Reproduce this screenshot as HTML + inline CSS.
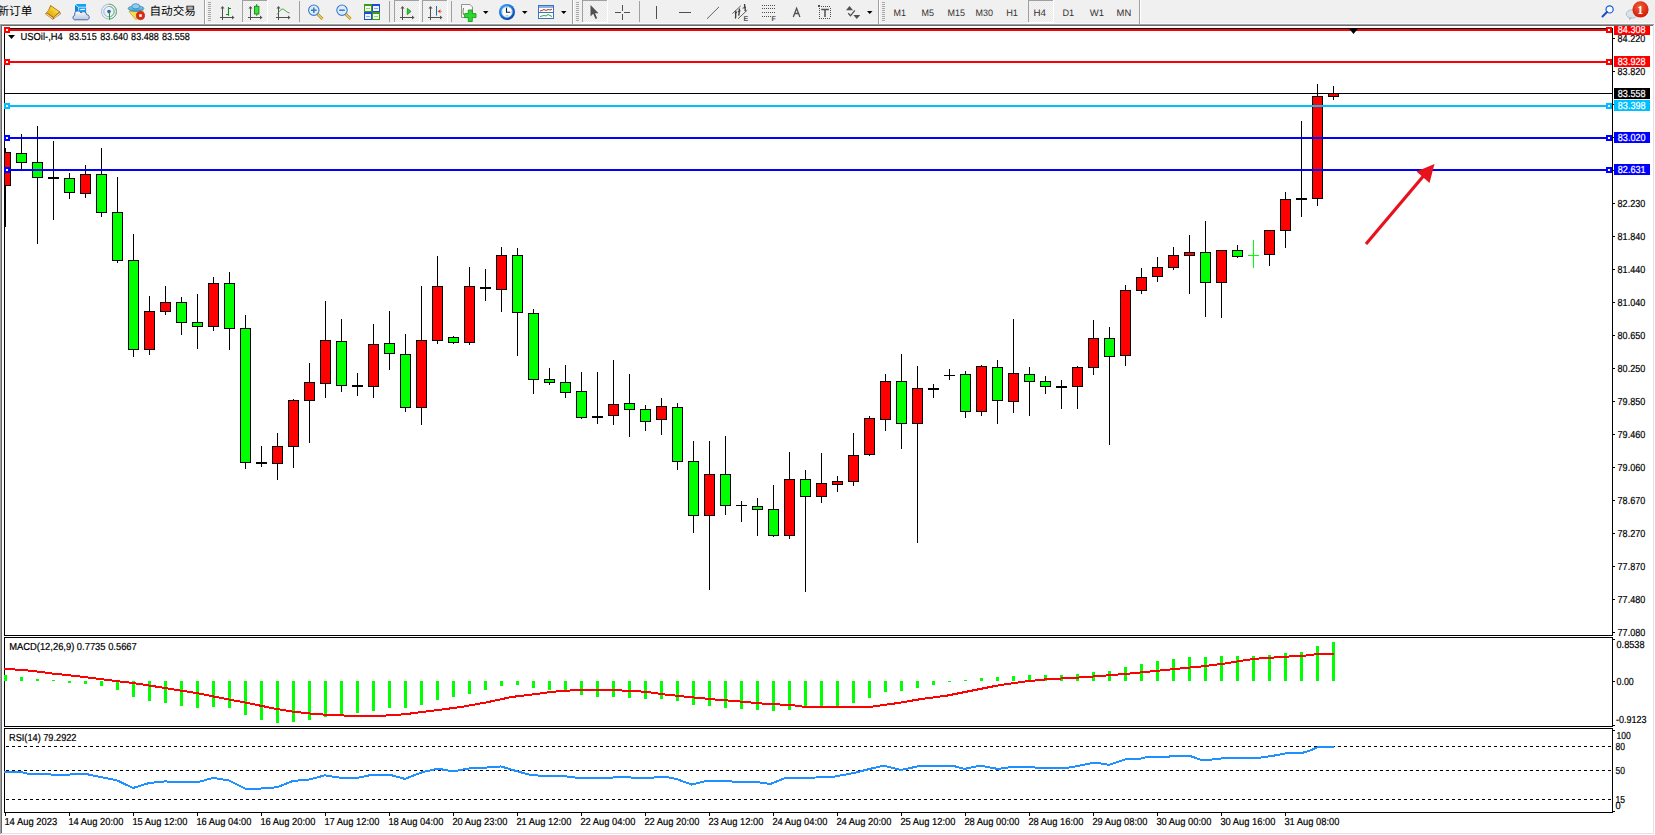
<!DOCTYPE html><html><head><meta charset="utf-8"><title>USOil-,H4</title><style>
html,body{margin:0;padding:0;width:1655px;height:835px;overflow:hidden;background:#ffffff;}
svg{position:absolute;left:0;top:0;font-family:"Liberation Sans", "Noto Sans CJK SC", sans-serif;}
svg text{font-family:"Liberation Sans", "Noto Sans CJK SC", sans-serif;text-rendering:geometricPrecision;}
</style></head><body>
<svg width="1655" height="835" viewBox="0 0 1655 835">
<defs><clipPath id="cm"><rect x="5" y="29" width="1607" height="606"/></clipPath><clipPath id="cmacd"><rect x="4" y="637" width="1608" height="89"/></clipPath><clipPath id="crsi"><rect x="4" y="728" width="1608" height="84"/></clipPath><clipPath id="cwin"><rect x="2" y="26" width="1651" height="807"/></clipPath><pattern id="chk" width="2" height="2" patternUnits="userSpaceOnUse"><rect width="2" height="2" fill="#f4f4f4"/><rect width="1" height="1" fill="#fbfbfb"/><rect x="1" y="1" width="1" height="1" fill="#fbfbfb"/></pattern></defs>
<g shape-rendering="crispEdges">
<rect x="0" y="0" width="1655" height="24" fill="#f0f0f0"/>
<rect x="0" y="23" width="1655" height="1" fill="#f9f9f9"/>
<rect x="0" y="24" width="1654" height="1" fill="#a0a0a0"/>
<rect x="0" y="25" width="1653" height="1" fill="#696969"/>
<rect x="0" y="24" width="1" height="811" fill="#a0a0a0"/>
<rect x="1" y="25" width="1" height="810" fill="#696969"/>
<rect x="1653" y="25" width="1" height="809" fill="#e3e3e3"/>
<rect x="1" y="833" width="1653" height="1" fill="#e3e3e3"/>
<rect x="1654" y="24" width="1" height="811" fill="#ffffff"/>
<rect x="0" y="834" width="1655" height="1" fill="#ffffff"/>
</g>
<g shape-rendering="crispEdges">
<rect x="4" y="28" width="1609" height="1" fill="#000"/>
<rect x="4" y="635" width="1609" height="1" fill="#000"/>
<rect x="4" y="28" width="1" height="608" fill="#000"/>
<rect x="1612" y="28" width="1" height="608" fill="#000"/>
<rect x="4" y="637" width="1609" height="1" fill="#000"/>
<rect x="4" y="726" width="1609" height="1" fill="#000"/>
<rect x="4" y="637" width="1" height="90" fill="#000"/>
<rect x="1612" y="637" width="1" height="90" fill="#000"/>
<rect x="4" y="728" width="1609" height="1" fill="#000"/>
<rect x="4" y="812" width="1609" height="1" fill="#000"/>
<rect x="4" y="728" width="1" height="85" fill="#000"/>
<rect x="1612" y="728" width="1" height="85" fill="#000"/>
</g>
<g shape-rendering="crispEdges" clip-path="url(#cm)">
<rect x="1" y="153" width="9" height="32" fill="#ff0000"/>
<rect x="17" y="154" width="9" height="8" fill="#00ff00"/>
<rect x="33" y="163" width="9" height="14" fill="#00ff00"/>
<rect x="65" y="179" width="9" height="13" fill="#00ff00"/>
<rect x="81" y="175" width="9" height="18" fill="#ff0000"/>
<rect x="97" y="175" width="9" height="37" fill="#00ff00"/>
<rect x="113" y="213" width="9" height="47" fill="#00ff00"/>
<rect x="129" y="261" width="9" height="88" fill="#00ff00"/>
<rect x="145" y="312" width="9" height="37" fill="#ff0000"/>
<rect x="161" y="303" width="9" height="8" fill="#ff0000"/>
<rect x="177" y="303" width="9" height="19" fill="#00ff00"/>
<rect x="193" y="323" width="9" height="3" fill="#00ff00"/>
<rect x="209" y="284" width="9" height="42" fill="#ff0000"/>
<rect x="225" y="284" width="9" height="44" fill="#00ff00"/>
<rect x="241" y="329" width="9" height="133" fill="#00ff00"/>
<rect x="273" y="447" width="9" height="16" fill="#ff0000"/>
<rect x="289" y="401" width="9" height="45" fill="#ff0000"/>
<rect x="305" y="383" width="9" height="17" fill="#ff0000"/>
<rect x="321" y="341" width="9" height="42" fill="#ff0000"/>
<rect x="337" y="342" width="9" height="43" fill="#00ff00"/>
<rect x="369" y="345" width="9" height="41" fill="#ff0000"/>
<rect x="385" y="344" width="9" height="9" fill="#00ff00"/>
<rect x="401" y="355" width="9" height="52" fill="#00ff00"/>
<rect x="417" y="341" width="9" height="66" fill="#ff0000"/>
<rect x="433" y="287" width="9" height="53" fill="#ff0000"/>
<rect x="449" y="338" width="9" height="4" fill="#00ff00"/>
<rect x="465" y="287" width="9" height="55" fill="#ff0000"/>
<rect x="497" y="256" width="9" height="33" fill="#ff0000"/>
<rect x="513" y="256" width="9" height="56" fill="#00ff00"/>
<rect x="529" y="314" width="9" height="65" fill="#00ff00"/>
<rect x="545" y="380" width="9" height="2" fill="#00ff00"/>
<rect x="561" y="383" width="9" height="9" fill="#00ff00"/>
<rect x="577" y="392" width="9" height="25" fill="#00ff00"/>
<rect x="609" y="405" width="9" height="10" fill="#ff0000"/>
<rect x="625" y="404" width="9" height="5" fill="#00ff00"/>
<rect x="641" y="410" width="9" height="11" fill="#00ff00"/>
<rect x="657" y="407" width="9" height="12" fill="#ff0000"/>
<rect x="673" y="408" width="9" height="53" fill="#00ff00"/>
<rect x="689" y="462" width="9" height="53" fill="#00ff00"/>
<rect x="705" y="475" width="9" height="40" fill="#ff0000"/>
<rect x="721" y="475" width="9" height="30" fill="#00ff00"/>
<rect x="753" y="507" width="9" height="2" fill="#00ff00"/>
<rect x="769" y="510" width="9" height="25" fill="#00ff00"/>
<rect x="785" y="480" width="9" height="55" fill="#ff0000"/>
<rect x="801" y="480" width="9" height="16" fill="#00ff00"/>
<rect x="817" y="484" width="9" height="12" fill="#ff0000"/>
<rect x="833" y="482" width="9" height="2" fill="#ff0000"/>
<rect x="849" y="456" width="9" height="25" fill="#ff0000"/>
<rect x="865" y="419" width="9" height="35" fill="#ff0000"/>
<rect x="881" y="382" width="9" height="37" fill="#ff0000"/>
<rect x="897" y="382" width="9" height="41" fill="#00ff00"/>
<rect x="913" y="389" width="9" height="34" fill="#ff0000"/>
<rect x="961" y="375" width="9" height="36" fill="#00ff00"/>
<rect x="977" y="367" width="9" height="44" fill="#ff0000"/>
<rect x="993" y="368" width="9" height="32" fill="#00ff00"/>
<rect x="1009" y="374" width="9" height="27" fill="#ff0000"/>
<rect x="1025" y="375" width="9" height="6" fill="#00ff00"/>
<rect x="1041" y="382" width="9" height="4" fill="#00ff00"/>
<rect x="1073" y="368" width="9" height="18" fill="#ff0000"/>
<rect x="1089" y="339" width="9" height="28" fill="#ff0000"/>
<rect x="1105" y="339" width="9" height="17" fill="#00ff00"/>
<rect x="1121" y="291" width="9" height="64" fill="#ff0000"/>
<rect x="1137" y="278" width="9" height="12" fill="#ff0000"/>
<rect x="1153" y="268" width="9" height="8" fill="#ff0000"/>
<rect x="1169" y="256" width="9" height="11" fill="#ff0000"/>
<rect x="1185" y="253" width="9" height="2" fill="#ff0000"/>
<rect x="1201" y="253" width="9" height="29" fill="#00ff00"/>
<rect x="1217" y="251" width="9" height="31" fill="#ff0000"/>
<rect x="1233" y="251" width="9" height="5" fill="#00ff00"/>
<rect x="1265" y="231" width="9" height="23" fill="#ff0000"/>
<rect x="1281" y="200" width="9" height="30" fill="#ff0000"/>
<rect x="1313" y="97" width="9" height="101" fill="#ff0000"/>
<rect x="1329" y="94" width="9" height="2" fill="#ff0000"/>
</g>
<g shape-rendering="crispEdges" clip-path="url(#cm)">
<rect x="5" y="148" width="1" height="4" fill="#000"/>
<rect x="5" y="186" width="1" height="41" fill="#000"/>
<rect x="0" y="152" width="11" height="1" fill="#000"/>
<rect x="0" y="185" width="11" height="1" fill="#000"/>
<rect x="0" y="152" width="1" height="34" fill="#000"/>
<rect x="10" y="152" width="1" height="34" fill="#000"/>
<rect x="21" y="134" width="1" height="19" fill="#000"/>
<rect x="21" y="163" width="1" height="6" fill="#000"/>
<rect x="16" y="153" width="11" height="1" fill="#000"/>
<rect x="16" y="162" width="11" height="1" fill="#000"/>
<rect x="16" y="153" width="1" height="10" fill="#000"/>
<rect x="26" y="153" width="1" height="10" fill="#000"/>
<rect x="37" y="126" width="1" height="36" fill="#000"/>
<rect x="37" y="178" width="1" height="66" fill="#000"/>
<rect x="32" y="162" width="11" height="1" fill="#000"/>
<rect x="32" y="177" width="11" height="1" fill="#000"/>
<rect x="32" y="162" width="1" height="16" fill="#000"/>
<rect x="42" y="162" width="1" height="16" fill="#000"/>
<rect x="53" y="141" width="1" height="79" fill="#000"/>
<rect x="48" y="177" width="11" height="2" fill="#000"/>
<rect x="69" y="173" width="1" height="5" fill="#000"/>
<rect x="69" y="193" width="1" height="6" fill="#000"/>
<rect x="64" y="178" width="11" height="1" fill="#000"/>
<rect x="64" y="192" width="11" height="1" fill="#000"/>
<rect x="64" y="178" width="1" height="15" fill="#000"/>
<rect x="74" y="178" width="1" height="15" fill="#000"/>
<rect x="85" y="165" width="1" height="9" fill="#000"/>
<rect x="85" y="194" width="1" height="4" fill="#000"/>
<rect x="80" y="174" width="11" height="1" fill="#000"/>
<rect x="80" y="193" width="11" height="1" fill="#000"/>
<rect x="80" y="174" width="1" height="20" fill="#000"/>
<rect x="90" y="174" width="1" height="20" fill="#000"/>
<rect x="101" y="148" width="1" height="26" fill="#000"/>
<rect x="101" y="213" width="1" height="4" fill="#000"/>
<rect x="96" y="174" width="11" height="1" fill="#000"/>
<rect x="96" y="212" width="11" height="1" fill="#000"/>
<rect x="96" y="174" width="1" height="39" fill="#000"/>
<rect x="106" y="174" width="1" height="39" fill="#000"/>
<rect x="117" y="177" width="1" height="35" fill="#000"/>
<rect x="117" y="261" width="1" height="2" fill="#000"/>
<rect x="112" y="212" width="11" height="1" fill="#000"/>
<rect x="112" y="260" width="11" height="1" fill="#000"/>
<rect x="112" y="212" width="1" height="49" fill="#000"/>
<rect x="122" y="212" width="1" height="49" fill="#000"/>
<rect x="133" y="234" width="1" height="26" fill="#000"/>
<rect x="133" y="350" width="1" height="7" fill="#000"/>
<rect x="128" y="260" width="11" height="1" fill="#000"/>
<rect x="128" y="349" width="11" height="1" fill="#000"/>
<rect x="128" y="260" width="1" height="90" fill="#000"/>
<rect x="138" y="260" width="1" height="90" fill="#000"/>
<rect x="149" y="296" width="1" height="15" fill="#000"/>
<rect x="149" y="350" width="1" height="5" fill="#000"/>
<rect x="144" y="311" width="11" height="1" fill="#000"/>
<rect x="144" y="349" width="11" height="1" fill="#000"/>
<rect x="144" y="311" width="1" height="39" fill="#000"/>
<rect x="154" y="311" width="1" height="39" fill="#000"/>
<rect x="165" y="286" width="1" height="16" fill="#000"/>
<rect x="165" y="312" width="1" height="3" fill="#000"/>
<rect x="160" y="302" width="11" height="1" fill="#000"/>
<rect x="160" y="311" width="11" height="1" fill="#000"/>
<rect x="160" y="302" width="1" height="10" fill="#000"/>
<rect x="170" y="302" width="1" height="10" fill="#000"/>
<rect x="181" y="297" width="1" height="5" fill="#000"/>
<rect x="181" y="323" width="1" height="12" fill="#000"/>
<rect x="176" y="302" width="11" height="1" fill="#000"/>
<rect x="176" y="322" width="11" height="1" fill="#000"/>
<rect x="176" y="302" width="1" height="21" fill="#000"/>
<rect x="186" y="302" width="1" height="21" fill="#000"/>
<rect x="197" y="294" width="1" height="28" fill="#000"/>
<rect x="197" y="327" width="1" height="22" fill="#000"/>
<rect x="192" y="322" width="11" height="1" fill="#000"/>
<rect x="192" y="326" width="11" height="1" fill="#000"/>
<rect x="192" y="322" width="1" height="5" fill="#000"/>
<rect x="202" y="322" width="1" height="5" fill="#000"/>
<rect x="213" y="277" width="1" height="6" fill="#000"/>
<rect x="213" y="327" width="1" height="4" fill="#000"/>
<rect x="208" y="283" width="11" height="1" fill="#000"/>
<rect x="208" y="326" width="11" height="1" fill="#000"/>
<rect x="208" y="283" width="1" height="44" fill="#000"/>
<rect x="218" y="283" width="1" height="44" fill="#000"/>
<rect x="229" y="272" width="1" height="11" fill="#000"/>
<rect x="229" y="329" width="1" height="21" fill="#000"/>
<rect x="224" y="283" width="11" height="1" fill="#000"/>
<rect x="224" y="328" width="11" height="1" fill="#000"/>
<rect x="224" y="283" width="1" height="46" fill="#000"/>
<rect x="234" y="283" width="1" height="46" fill="#000"/>
<rect x="245" y="315" width="1" height="13" fill="#000"/>
<rect x="245" y="463" width="1" height="6" fill="#000"/>
<rect x="240" y="328" width="11" height="1" fill="#000"/>
<rect x="240" y="462" width="11" height="1" fill="#000"/>
<rect x="240" y="328" width="1" height="135" fill="#000"/>
<rect x="250" y="328" width="1" height="135" fill="#000"/>
<rect x="261" y="446" width="1" height="21" fill="#000"/>
<rect x="256" y="462" width="11" height="2" fill="#000"/>
<rect x="277" y="433" width="1" height="13" fill="#000"/>
<rect x="277" y="464" width="1" height="16" fill="#000"/>
<rect x="272" y="446" width="11" height="1" fill="#000"/>
<rect x="272" y="463" width="11" height="1" fill="#000"/>
<rect x="272" y="446" width="1" height="18" fill="#000"/>
<rect x="282" y="446" width="1" height="18" fill="#000"/>
<rect x="293" y="399" width="1" height="1" fill="#000"/>
<rect x="293" y="447" width="1" height="21" fill="#000"/>
<rect x="288" y="400" width="11" height="1" fill="#000"/>
<rect x="288" y="446" width="11" height="1" fill="#000"/>
<rect x="288" y="400" width="1" height="47" fill="#000"/>
<rect x="298" y="400" width="1" height="47" fill="#000"/>
<rect x="309" y="363" width="1" height="19" fill="#000"/>
<rect x="309" y="401" width="1" height="42" fill="#000"/>
<rect x="304" y="382" width="11" height="1" fill="#000"/>
<rect x="304" y="400" width="11" height="1" fill="#000"/>
<rect x="304" y="382" width="1" height="19" fill="#000"/>
<rect x="314" y="382" width="1" height="19" fill="#000"/>
<rect x="325" y="301" width="1" height="39" fill="#000"/>
<rect x="325" y="384" width="1" height="14" fill="#000"/>
<rect x="320" y="340" width="11" height="1" fill="#000"/>
<rect x="320" y="383" width="11" height="1" fill="#000"/>
<rect x="320" y="340" width="1" height="44" fill="#000"/>
<rect x="330" y="340" width="1" height="44" fill="#000"/>
<rect x="341" y="319" width="1" height="22" fill="#000"/>
<rect x="341" y="386" width="1" height="6" fill="#000"/>
<rect x="336" y="341" width="11" height="1" fill="#000"/>
<rect x="336" y="385" width="11" height="1" fill="#000"/>
<rect x="336" y="341" width="1" height="45" fill="#000"/>
<rect x="346" y="341" width="1" height="45" fill="#000"/>
<rect x="357" y="373" width="1" height="23" fill="#000"/>
<rect x="352" y="385" width="11" height="2" fill="#000"/>
<rect x="373" y="324" width="1" height="20" fill="#000"/>
<rect x="373" y="387" width="1" height="11" fill="#000"/>
<rect x="368" y="344" width="11" height="1" fill="#000"/>
<rect x="368" y="386" width="11" height="1" fill="#000"/>
<rect x="368" y="344" width="1" height="43" fill="#000"/>
<rect x="378" y="344" width="1" height="43" fill="#000"/>
<rect x="389" y="311" width="1" height="32" fill="#000"/>
<rect x="389" y="354" width="1" height="16" fill="#000"/>
<rect x="384" y="343" width="11" height="1" fill="#000"/>
<rect x="384" y="353" width="11" height="1" fill="#000"/>
<rect x="384" y="343" width="1" height="11" fill="#000"/>
<rect x="394" y="343" width="1" height="11" fill="#000"/>
<rect x="405" y="334" width="1" height="20" fill="#000"/>
<rect x="405" y="408" width="1" height="4" fill="#000"/>
<rect x="400" y="354" width="11" height="1" fill="#000"/>
<rect x="400" y="407" width="11" height="1" fill="#000"/>
<rect x="400" y="354" width="1" height="54" fill="#000"/>
<rect x="410" y="354" width="1" height="54" fill="#000"/>
<rect x="421" y="286" width="1" height="54" fill="#000"/>
<rect x="421" y="408" width="1" height="17" fill="#000"/>
<rect x="416" y="340" width="11" height="1" fill="#000"/>
<rect x="416" y="407" width="11" height="1" fill="#000"/>
<rect x="416" y="340" width="1" height="68" fill="#000"/>
<rect x="426" y="340" width="1" height="68" fill="#000"/>
<rect x="437" y="256" width="1" height="30" fill="#000"/>
<rect x="437" y="341" width="1" height="3" fill="#000"/>
<rect x="432" y="286" width="11" height="1" fill="#000"/>
<rect x="432" y="340" width="11" height="1" fill="#000"/>
<rect x="432" y="286" width="1" height="55" fill="#000"/>
<rect x="442" y="286" width="1" height="55" fill="#000"/>
<rect x="453" y="336" width="1" height="1" fill="#000"/>
<rect x="453" y="343" width="1" height="1" fill="#000"/>
<rect x="448" y="337" width="11" height="1" fill="#000"/>
<rect x="448" y="342" width="11" height="1" fill="#000"/>
<rect x="448" y="337" width="1" height="6" fill="#000"/>
<rect x="458" y="337" width="1" height="6" fill="#000"/>
<rect x="469" y="267" width="1" height="19" fill="#000"/>
<rect x="469" y="343" width="1" height="2" fill="#000"/>
<rect x="464" y="286" width="11" height="1" fill="#000"/>
<rect x="464" y="342" width="11" height="1" fill="#000"/>
<rect x="464" y="286" width="1" height="57" fill="#000"/>
<rect x="474" y="286" width="1" height="57" fill="#000"/>
<rect x="485" y="269" width="1" height="32" fill="#000"/>
<rect x="480" y="287" width="11" height="2" fill="#000"/>
<rect x="501" y="247" width="1" height="8" fill="#000"/>
<rect x="501" y="290" width="1" height="22" fill="#000"/>
<rect x="496" y="255" width="11" height="1" fill="#000"/>
<rect x="496" y="289" width="11" height="1" fill="#000"/>
<rect x="496" y="255" width="1" height="35" fill="#000"/>
<rect x="506" y="255" width="1" height="35" fill="#000"/>
<rect x="517" y="248" width="1" height="7" fill="#000"/>
<rect x="517" y="313" width="1" height="43" fill="#000"/>
<rect x="512" y="255" width="11" height="1" fill="#000"/>
<rect x="512" y="312" width="11" height="1" fill="#000"/>
<rect x="512" y="255" width="1" height="58" fill="#000"/>
<rect x="522" y="255" width="1" height="58" fill="#000"/>
<rect x="533" y="309" width="1" height="4" fill="#000"/>
<rect x="533" y="380" width="1" height="14" fill="#000"/>
<rect x="528" y="313" width="11" height="1" fill="#000"/>
<rect x="528" y="379" width="11" height="1" fill="#000"/>
<rect x="528" y="313" width="1" height="67" fill="#000"/>
<rect x="538" y="313" width="1" height="67" fill="#000"/>
<rect x="549" y="368" width="1" height="11" fill="#000"/>
<rect x="549" y="383" width="1" height="2" fill="#000"/>
<rect x="544" y="379" width="11" height="1" fill="#000"/>
<rect x="544" y="382" width="11" height="1" fill="#000"/>
<rect x="544" y="379" width="1" height="4" fill="#000"/>
<rect x="554" y="379" width="1" height="4" fill="#000"/>
<rect x="565" y="365" width="1" height="17" fill="#000"/>
<rect x="565" y="393" width="1" height="5" fill="#000"/>
<rect x="560" y="382" width="11" height="1" fill="#000"/>
<rect x="560" y="392" width="11" height="1" fill="#000"/>
<rect x="560" y="382" width="1" height="11" fill="#000"/>
<rect x="570" y="382" width="1" height="11" fill="#000"/>
<rect x="581" y="372" width="1" height="19" fill="#000"/>
<rect x="581" y="418" width="1" height="1" fill="#000"/>
<rect x="576" y="391" width="11" height="1" fill="#000"/>
<rect x="576" y="417" width="11" height="1" fill="#000"/>
<rect x="576" y="391" width="1" height="27" fill="#000"/>
<rect x="586" y="391" width="1" height="27" fill="#000"/>
<rect x="597" y="372" width="1" height="52" fill="#000"/>
<rect x="592" y="416" width="11" height="2" fill="#000"/>
<rect x="613" y="360" width="1" height="44" fill="#000"/>
<rect x="613" y="416" width="1" height="9" fill="#000"/>
<rect x="608" y="404" width="11" height="1" fill="#000"/>
<rect x="608" y="415" width="11" height="1" fill="#000"/>
<rect x="608" y="404" width="1" height="12" fill="#000"/>
<rect x="618" y="404" width="1" height="12" fill="#000"/>
<rect x="629" y="374" width="1" height="29" fill="#000"/>
<rect x="629" y="410" width="1" height="27" fill="#000"/>
<rect x="624" y="403" width="11" height="1" fill="#000"/>
<rect x="624" y="409" width="11" height="1" fill="#000"/>
<rect x="624" y="403" width="1" height="7" fill="#000"/>
<rect x="634" y="403" width="1" height="7" fill="#000"/>
<rect x="645" y="405" width="1" height="4" fill="#000"/>
<rect x="645" y="422" width="1" height="9" fill="#000"/>
<rect x="640" y="409" width="11" height="1" fill="#000"/>
<rect x="640" y="421" width="11" height="1" fill="#000"/>
<rect x="640" y="409" width="1" height="13" fill="#000"/>
<rect x="650" y="409" width="1" height="13" fill="#000"/>
<rect x="661" y="398" width="1" height="8" fill="#000"/>
<rect x="661" y="420" width="1" height="15" fill="#000"/>
<rect x="656" y="406" width="11" height="1" fill="#000"/>
<rect x="656" y="419" width="11" height="1" fill="#000"/>
<rect x="656" y="406" width="1" height="14" fill="#000"/>
<rect x="666" y="406" width="1" height="14" fill="#000"/>
<rect x="677" y="403" width="1" height="4" fill="#000"/>
<rect x="677" y="462" width="1" height="8" fill="#000"/>
<rect x="672" y="407" width="11" height="1" fill="#000"/>
<rect x="672" y="461" width="11" height="1" fill="#000"/>
<rect x="672" y="407" width="1" height="55" fill="#000"/>
<rect x="682" y="407" width="1" height="55" fill="#000"/>
<rect x="693" y="441" width="1" height="20" fill="#000"/>
<rect x="693" y="516" width="1" height="17" fill="#000"/>
<rect x="688" y="461" width="11" height="1" fill="#000"/>
<rect x="688" y="515" width="11" height="1" fill="#000"/>
<rect x="688" y="461" width="1" height="55" fill="#000"/>
<rect x="698" y="461" width="1" height="55" fill="#000"/>
<rect x="709" y="441" width="1" height="33" fill="#000"/>
<rect x="709" y="516" width="1" height="74" fill="#000"/>
<rect x="704" y="474" width="11" height="1" fill="#000"/>
<rect x="704" y="515" width="11" height="1" fill="#000"/>
<rect x="704" y="474" width="1" height="42" fill="#000"/>
<rect x="714" y="474" width="1" height="42" fill="#000"/>
<rect x="725" y="436" width="1" height="38" fill="#000"/>
<rect x="725" y="506" width="1" height="9" fill="#000"/>
<rect x="720" y="474" width="11" height="1" fill="#000"/>
<rect x="720" y="505" width="11" height="1" fill="#000"/>
<rect x="720" y="474" width="1" height="32" fill="#000"/>
<rect x="730" y="474" width="1" height="32" fill="#000"/>
<rect x="741" y="501" width="1" height="21" fill="#000"/>
<rect x="736" y="505" width="11" height="1" fill="#000"/>
<rect x="757" y="498" width="1" height="8" fill="#000"/>
<rect x="757" y="510" width="1" height="26" fill="#000"/>
<rect x="752" y="506" width="11" height="1" fill="#000"/>
<rect x="752" y="509" width="11" height="1" fill="#000"/>
<rect x="752" y="506" width="1" height="4" fill="#000"/>
<rect x="762" y="506" width="1" height="4" fill="#000"/>
<rect x="773" y="485" width="1" height="24" fill="#000"/>
<rect x="773" y="536" width="1" height="1" fill="#000"/>
<rect x="768" y="509" width="11" height="1" fill="#000"/>
<rect x="768" y="535" width="11" height="1" fill="#000"/>
<rect x="768" y="509" width="1" height="27" fill="#000"/>
<rect x="778" y="509" width="1" height="27" fill="#000"/>
<rect x="789" y="452" width="1" height="27" fill="#000"/>
<rect x="789" y="536" width="1" height="3" fill="#000"/>
<rect x="784" y="479" width="11" height="1" fill="#000"/>
<rect x="784" y="535" width="11" height="1" fill="#000"/>
<rect x="784" y="479" width="1" height="57" fill="#000"/>
<rect x="794" y="479" width="1" height="57" fill="#000"/>
<rect x="805" y="470" width="1" height="9" fill="#000"/>
<rect x="805" y="497" width="1" height="95" fill="#000"/>
<rect x="800" y="479" width="11" height="1" fill="#000"/>
<rect x="800" y="496" width="11" height="1" fill="#000"/>
<rect x="800" y="479" width="1" height="18" fill="#000"/>
<rect x="810" y="479" width="1" height="18" fill="#000"/>
<rect x="821" y="453" width="1" height="30" fill="#000"/>
<rect x="821" y="497" width="1" height="6" fill="#000"/>
<rect x="816" y="483" width="11" height="1" fill="#000"/>
<rect x="816" y="496" width="11" height="1" fill="#000"/>
<rect x="816" y="483" width="1" height="14" fill="#000"/>
<rect x="826" y="483" width="1" height="14" fill="#000"/>
<rect x="837" y="476" width="1" height="5" fill="#000"/>
<rect x="837" y="485" width="1" height="7" fill="#000"/>
<rect x="832" y="481" width="11" height="1" fill="#000"/>
<rect x="832" y="484" width="11" height="1" fill="#000"/>
<rect x="832" y="481" width="1" height="4" fill="#000"/>
<rect x="842" y="481" width="1" height="4" fill="#000"/>
<rect x="853" y="433" width="1" height="22" fill="#000"/>
<rect x="853" y="482" width="1" height="4" fill="#000"/>
<rect x="848" y="455" width="11" height="1" fill="#000"/>
<rect x="848" y="481" width="11" height="1" fill="#000"/>
<rect x="848" y="455" width="1" height="27" fill="#000"/>
<rect x="858" y="455" width="1" height="27" fill="#000"/>
<rect x="869" y="416" width="1" height="2" fill="#000"/>
<rect x="869" y="455" width="1" height="1" fill="#000"/>
<rect x="864" y="418" width="11" height="1" fill="#000"/>
<rect x="864" y="454" width="11" height="1" fill="#000"/>
<rect x="864" y="418" width="1" height="37" fill="#000"/>
<rect x="874" y="418" width="1" height="37" fill="#000"/>
<rect x="885" y="374" width="1" height="7" fill="#000"/>
<rect x="885" y="420" width="1" height="11" fill="#000"/>
<rect x="880" y="381" width="11" height="1" fill="#000"/>
<rect x="880" y="419" width="11" height="1" fill="#000"/>
<rect x="880" y="381" width="1" height="39" fill="#000"/>
<rect x="890" y="381" width="1" height="39" fill="#000"/>
<rect x="901" y="354" width="1" height="27" fill="#000"/>
<rect x="901" y="424" width="1" height="25" fill="#000"/>
<rect x="896" y="381" width="11" height="1" fill="#000"/>
<rect x="896" y="423" width="11" height="1" fill="#000"/>
<rect x="896" y="381" width="1" height="43" fill="#000"/>
<rect x="906" y="381" width="1" height="43" fill="#000"/>
<rect x="917" y="366" width="1" height="22" fill="#000"/>
<rect x="917" y="424" width="1" height="119" fill="#000"/>
<rect x="912" y="388" width="11" height="1" fill="#000"/>
<rect x="912" y="423" width="11" height="1" fill="#000"/>
<rect x="912" y="388" width="1" height="36" fill="#000"/>
<rect x="922" y="388" width="1" height="36" fill="#000"/>
<rect x="933" y="384" width="1" height="14" fill="#000"/>
<rect x="928" y="388" width="11" height="2" fill="#000"/>
<rect x="949" y="369" width="1" height="11" fill="#000"/>
<rect x="944" y="375" width="11" height="1" fill="#000"/>
<rect x="965" y="371" width="1" height="3" fill="#000"/>
<rect x="965" y="412" width="1" height="6" fill="#000"/>
<rect x="960" y="374" width="11" height="1" fill="#000"/>
<rect x="960" y="411" width="11" height="1" fill="#000"/>
<rect x="960" y="374" width="1" height="38" fill="#000"/>
<rect x="970" y="374" width="1" height="38" fill="#000"/>
<rect x="981" y="365" width="1" height="1" fill="#000"/>
<rect x="981" y="412" width="1" height="4" fill="#000"/>
<rect x="976" y="366" width="11" height="1" fill="#000"/>
<rect x="976" y="411" width="11" height="1" fill="#000"/>
<rect x="976" y="366" width="1" height="46" fill="#000"/>
<rect x="986" y="366" width="1" height="46" fill="#000"/>
<rect x="997" y="360" width="1" height="7" fill="#000"/>
<rect x="997" y="401" width="1" height="23" fill="#000"/>
<rect x="992" y="367" width="11" height="1" fill="#000"/>
<rect x="992" y="400" width="11" height="1" fill="#000"/>
<rect x="992" y="367" width="1" height="34" fill="#000"/>
<rect x="1002" y="367" width="1" height="34" fill="#000"/>
<rect x="1013" y="319" width="1" height="54" fill="#000"/>
<rect x="1013" y="402" width="1" height="11" fill="#000"/>
<rect x="1008" y="373" width="11" height="1" fill="#000"/>
<rect x="1008" y="401" width="11" height="1" fill="#000"/>
<rect x="1008" y="373" width="1" height="29" fill="#000"/>
<rect x="1018" y="373" width="1" height="29" fill="#000"/>
<rect x="1029" y="367" width="1" height="7" fill="#000"/>
<rect x="1029" y="382" width="1" height="34" fill="#000"/>
<rect x="1024" y="374" width="11" height="1" fill="#000"/>
<rect x="1024" y="381" width="11" height="1" fill="#000"/>
<rect x="1024" y="374" width="1" height="8" fill="#000"/>
<rect x="1034" y="374" width="1" height="8" fill="#000"/>
<rect x="1045" y="376" width="1" height="5" fill="#000"/>
<rect x="1045" y="387" width="1" height="7" fill="#000"/>
<rect x="1040" y="381" width="11" height="1" fill="#000"/>
<rect x="1040" y="386" width="11" height="1" fill="#000"/>
<rect x="1040" y="381" width="1" height="6" fill="#000"/>
<rect x="1050" y="381" width="1" height="6" fill="#000"/>
<rect x="1061" y="380" width="1" height="29" fill="#000"/>
<rect x="1056" y="386" width="11" height="2" fill="#000"/>
<rect x="1077" y="366" width="1" height="1" fill="#000"/>
<rect x="1077" y="387" width="1" height="22" fill="#000"/>
<rect x="1072" y="367" width="11" height="1" fill="#000"/>
<rect x="1072" y="386" width="11" height="1" fill="#000"/>
<rect x="1072" y="367" width="1" height="20" fill="#000"/>
<rect x="1082" y="367" width="1" height="20" fill="#000"/>
<rect x="1093" y="320" width="1" height="18" fill="#000"/>
<rect x="1093" y="368" width="1" height="7" fill="#000"/>
<rect x="1088" y="338" width="11" height="1" fill="#000"/>
<rect x="1088" y="367" width="11" height="1" fill="#000"/>
<rect x="1088" y="338" width="1" height="30" fill="#000"/>
<rect x="1098" y="338" width="1" height="30" fill="#000"/>
<rect x="1109" y="327" width="1" height="11" fill="#000"/>
<rect x="1109" y="357" width="1" height="88" fill="#000"/>
<rect x="1104" y="338" width="11" height="1" fill="#000"/>
<rect x="1104" y="356" width="11" height="1" fill="#000"/>
<rect x="1104" y="338" width="1" height="19" fill="#000"/>
<rect x="1114" y="338" width="1" height="19" fill="#000"/>
<rect x="1125" y="285" width="1" height="5" fill="#000"/>
<rect x="1125" y="356" width="1" height="10" fill="#000"/>
<rect x="1120" y="290" width="11" height="1" fill="#000"/>
<rect x="1120" y="355" width="11" height="1" fill="#000"/>
<rect x="1120" y="290" width="1" height="66" fill="#000"/>
<rect x="1130" y="290" width="1" height="66" fill="#000"/>
<rect x="1141" y="268" width="1" height="9" fill="#000"/>
<rect x="1141" y="291" width="1" height="3" fill="#000"/>
<rect x="1136" y="277" width="11" height="1" fill="#000"/>
<rect x="1136" y="290" width="11" height="1" fill="#000"/>
<rect x="1136" y="277" width="1" height="14" fill="#000"/>
<rect x="1146" y="277" width="1" height="14" fill="#000"/>
<rect x="1157" y="257" width="1" height="10" fill="#000"/>
<rect x="1157" y="277" width="1" height="5" fill="#000"/>
<rect x="1152" y="267" width="11" height="1" fill="#000"/>
<rect x="1152" y="276" width="11" height="1" fill="#000"/>
<rect x="1152" y="267" width="1" height="10" fill="#000"/>
<rect x="1162" y="267" width="1" height="10" fill="#000"/>
<rect x="1173" y="247" width="1" height="8" fill="#000"/>
<rect x="1173" y="268" width="1" height="2" fill="#000"/>
<rect x="1168" y="255" width="11" height="1" fill="#000"/>
<rect x="1168" y="267" width="11" height="1" fill="#000"/>
<rect x="1168" y="255" width="1" height="13" fill="#000"/>
<rect x="1178" y="255" width="1" height="13" fill="#000"/>
<rect x="1189" y="235" width="1" height="17" fill="#000"/>
<rect x="1189" y="256" width="1" height="38" fill="#000"/>
<rect x="1184" y="252" width="11" height="1" fill="#000"/>
<rect x="1184" y="255" width="11" height="1" fill="#000"/>
<rect x="1184" y="252" width="1" height="4" fill="#000"/>
<rect x="1194" y="252" width="1" height="4" fill="#000"/>
<rect x="1205" y="221" width="1" height="31" fill="#000"/>
<rect x="1205" y="283" width="1" height="34" fill="#000"/>
<rect x="1200" y="252" width="11" height="1" fill="#000"/>
<rect x="1200" y="282" width="11" height="1" fill="#000"/>
<rect x="1200" y="252" width="1" height="31" fill="#000"/>
<rect x="1210" y="252" width="1" height="31" fill="#000"/>

<rect x="1221" y="283" width="1" height="35" fill="#000"/>
<rect x="1216" y="250" width="11" height="1" fill="#000"/>
<rect x="1216" y="282" width="11" height="1" fill="#000"/>
<rect x="1216" y="250" width="1" height="33" fill="#000"/>
<rect x="1226" y="250" width="1" height="33" fill="#000"/>
<rect x="1237" y="245" width="1" height="5" fill="#000"/>
<rect x="1237" y="257" width="1" height="1" fill="#000"/>
<rect x="1232" y="250" width="11" height="1" fill="#000"/>
<rect x="1232" y="256" width="11" height="1" fill="#000"/>
<rect x="1232" y="250" width="1" height="7" fill="#000"/>
<rect x="1242" y="250" width="1" height="7" fill="#000"/>
<rect x="1253" y="240" width="1" height="28" fill="#00ff00"/>
<rect x="1248" y="255" width="11" height="1" fill="#00ff00"/>

<rect x="1269" y="255" width="1" height="11" fill="#000"/>
<rect x="1264" y="230" width="11" height="1" fill="#000"/>
<rect x="1264" y="254" width="11" height="1" fill="#000"/>
<rect x="1264" y="230" width="1" height="25" fill="#000"/>
<rect x="1274" y="230" width="1" height="25" fill="#000"/>
<rect x="1285" y="192" width="1" height="7" fill="#000"/>
<rect x="1285" y="231" width="1" height="17" fill="#000"/>
<rect x="1280" y="199" width="11" height="1" fill="#000"/>
<rect x="1280" y="230" width="11" height="1" fill="#000"/>
<rect x="1280" y="199" width="1" height="32" fill="#000"/>
<rect x="1290" y="199" width="1" height="32" fill="#000"/>
<rect x="1301" y="121" width="1" height="96" fill="#000"/>
<rect x="1296" y="198" width="11" height="2" fill="#000"/>
<rect x="1317" y="84" width="1" height="12" fill="#000"/>
<rect x="1317" y="199" width="1" height="7" fill="#000"/>
<rect x="1312" y="96" width="11" height="1" fill="#000"/>
<rect x="1312" y="198" width="11" height="1" fill="#000"/>
<rect x="1312" y="96" width="1" height="103" fill="#000"/>
<rect x="1322" y="96" width="1" height="103" fill="#000"/>
<rect x="1333" y="86" width="1" height="7" fill="#000"/>
<rect x="1333" y="97" width="1" height="3" fill="#000"/>
<rect x="1328" y="93" width="11" height="1" fill="#000"/>
<rect x="1328" y="96" width="11" height="1" fill="#000"/>
<rect x="1328" y="93" width="1" height="4" fill="#000"/>
<rect x="1338" y="93" width="1" height="4" fill="#000"/>
</g>
<g shape-rendering="crispEdges" clip-path="url(#cm)">
<rect x="5" y="29" width="1607" height="2" fill="#ff0000"/>
<rect x="5" y="61" width="1607" height="2" fill="#ff0000"/>
<rect x="5" y="93" width="1607" height="1" fill="#000"/>
<rect x="5" y="105" width="1607" height="2" fill="#00bfff"/>
<rect x="5" y="137" width="1607" height="2" fill="#0000ff"/>
<rect x="5" y="169" width="1607" height="2" fill="#0000ff"/>
</g>
<g shape-rendering="crispEdges">
<rect x="4" y="27" width="6" height="6" fill="#ff0000"/>
<rect x="6" y="29" width="2" height="2" fill="#fff"/>
<rect x="1606" y="27" width="6" height="6" fill="#ff0000"/>
<rect x="1608" y="29" width="2" height="2" fill="#fff"/>
<rect x="4" y="59" width="6" height="6" fill="#ff0000"/>
<rect x="6" y="61" width="2" height="2" fill="#fff"/>
<rect x="1606" y="59" width="6" height="6" fill="#ff0000"/>
<rect x="1608" y="61" width="2" height="2" fill="#fff"/>
<rect x="4" y="103" width="6" height="6" fill="#00bfff"/>
<rect x="6" y="105" width="2" height="2" fill="#fff"/>
<rect x="1606" y="103" width="6" height="6" fill="#00bfff"/>
<rect x="1608" y="105" width="2" height="2" fill="#fff"/>
<rect x="4" y="135" width="6" height="6" fill="#0000ff"/>
<rect x="6" y="137" width="2" height="2" fill="#fff"/>
<rect x="1606" y="135" width="6" height="6" fill="#0000ff"/>
<rect x="1608" y="137" width="2" height="2" fill="#fff"/>
<rect x="4" y="167" width="6" height="6" fill="#0000ff"/>
<rect x="6" y="169" width="2" height="2" fill="#fff"/>
<rect x="1606" y="167" width="6" height="6" fill="#0000ff"/>
<rect x="1608" y="169" width="2" height="2" fill="#fff"/>
</g>
<polygon points="1348.5,28 1358.5,28 1353.5,34" fill="#000"/>
<g fill="#e8121c" stroke="none">
<line x1="1366" y1="244" x2="1426" y2="173" stroke="#e8121c" stroke-width="3.2"/>
<polygon points="1434.5,164 1416.5,171.5 1429.5,183"/>
</g>
<g shape-rendering="crispEdges">
<rect x="1613" y="38" width="2" height="1" fill="#000"/>
<rect x="1613" y="71" width="2" height="1" fill="#000"/>
<rect x="1613" y="104" width="2" height="1" fill="#000"/>
<rect x="1613" y="137" width="2" height="1" fill="#000"/>
<rect x="1613" y="170" width="2" height="1" fill="#000"/>
<rect x="1613" y="203" width="2" height="1" fill="#000"/>
<rect x="1613" y="236" width="2" height="1" fill="#000"/>
<rect x="1613" y="269" width="2" height="1" fill="#000"/>
<rect x="1613" y="302" width="2" height="1" fill="#000"/>
<rect x="1613" y="335" width="2" height="1" fill="#000"/>
<rect x="1613" y="368" width="2" height="1" fill="#000"/>
<rect x="1613" y="401" width="2" height="1" fill="#000"/>
<rect x="1613" y="434" width="2" height="1" fill="#000"/>
<rect x="1613" y="467" width="2" height="1" fill="#000"/>
<rect x="1613" y="500" width="2" height="1" fill="#000"/>
<rect x="1613" y="533" width="2" height="1" fill="#000"/>
<rect x="1613" y="566" width="2" height="1" fill="#000"/>
<rect x="1613" y="599" width="2" height="1" fill="#000"/>
<rect x="1613" y="632" width="2" height="1" fill="#000"/>
</g>
<g>
<text x="1617.6" y="42" font-size="10.2" fill="#000" stroke="#000" stroke-width="0.2" textLength="27.6" lengthAdjust="spacingAndGlyphs">84.220</text>
<text x="1617.6" y="75" font-size="10.2" fill="#000" stroke="#000" stroke-width="0.2" textLength="27.6" lengthAdjust="spacingAndGlyphs">83.820</text>
<text x="1617.6" y="207" font-size="10.2" fill="#000" stroke="#000" stroke-width="0.2" textLength="27.6" lengthAdjust="spacingAndGlyphs">82.230</text>
<text x="1617.6" y="240" font-size="10.2" fill="#000" stroke="#000" stroke-width="0.2" textLength="27.6" lengthAdjust="spacingAndGlyphs">81.840</text>
<text x="1617.6" y="273" font-size="10.2" fill="#000" stroke="#000" stroke-width="0.2" textLength="27.6" lengthAdjust="spacingAndGlyphs">81.440</text>
<text x="1617.6" y="306" font-size="10.2" fill="#000" stroke="#000" stroke-width="0.2" textLength="27.6" lengthAdjust="spacingAndGlyphs">81.040</text>
<text x="1617.6" y="339" font-size="10.2" fill="#000" stroke="#000" stroke-width="0.2" textLength="27.6" lengthAdjust="spacingAndGlyphs">80.650</text>
<text x="1617.6" y="372" font-size="10.2" fill="#000" stroke="#000" stroke-width="0.2" textLength="27.6" lengthAdjust="spacingAndGlyphs">80.250</text>
<text x="1617.6" y="405" font-size="10.2" fill="#000" stroke="#000" stroke-width="0.2" textLength="27.6" lengthAdjust="spacingAndGlyphs">79.850</text>
<text x="1617.6" y="438" font-size="10.2" fill="#000" stroke="#000" stroke-width="0.2" textLength="27.6" lengthAdjust="spacingAndGlyphs">79.460</text>
<text x="1617.6" y="471" font-size="10.2" fill="#000" stroke="#000" stroke-width="0.2" textLength="27.6" lengthAdjust="spacingAndGlyphs">79.060</text>
<text x="1617.6" y="504" font-size="10.2" fill="#000" stroke="#000" stroke-width="0.2" textLength="27.6" lengthAdjust="spacingAndGlyphs">78.670</text>
<text x="1617.6" y="537" font-size="10.2" fill="#000" stroke="#000" stroke-width="0.2" textLength="27.6" lengthAdjust="spacingAndGlyphs">78.270</text>
<text x="1617.6" y="570" font-size="10.2" fill="#000" stroke="#000" stroke-width="0.2" textLength="27.6" lengthAdjust="spacingAndGlyphs">77.870</text>
<text x="1617.6" y="603" font-size="10.2" fill="#000" stroke="#000" stroke-width="0.2" textLength="27.6" lengthAdjust="spacingAndGlyphs">77.480</text>
<text x="1617.6" y="636" font-size="10.2" fill="#000" stroke="#000" stroke-width="0.2" textLength="27.6" lengthAdjust="spacingAndGlyphs">77.080</text>
</g>
<g shape-rendering="crispEdges">
<rect x="1614" y="26" width="36" height="9" fill="#ff0000"/>
<rect x="1614" y="56" width="36" height="11" fill="#ff0000"/>
<rect x="1614" y="88" width="36" height="11" fill="#000"/>
<rect x="1614" y="100" width="36" height="11" fill="#00bfff"/>
<rect x="1614" y="132" width="36" height="11" fill="#0000ff"/>
<rect x="1614" y="164" width="36" height="11" fill="#0000ff"/>
</g>
<g clip-path="url(#cwin)">
<text x="1617.8" y="33" font-size="10.2" fill="#fff" stroke="#fff" stroke-width="0.2" textLength="27.8" lengthAdjust="spacingAndGlyphs">84.308</text>
<text x="1617.8" y="65" font-size="10.2" fill="#fff" stroke="#fff" stroke-width="0.2" textLength="27.8" lengthAdjust="spacingAndGlyphs">83.928</text>
<text x="1617.8" y="97" font-size="10.2" fill="#fff" stroke="#fff" stroke-width="0.2" textLength="27.8" lengthAdjust="spacingAndGlyphs">83.558</text>
<text x="1617.8" y="109" font-size="10.2" fill="#fff" stroke="#fff" stroke-width="0.2" textLength="27.8" lengthAdjust="spacingAndGlyphs">83.398</text>
<text x="1617.8" y="141" font-size="10.2" fill="#fff" stroke="#fff" stroke-width="0.2" textLength="27.8" lengthAdjust="spacingAndGlyphs">83.020</text>
<text x="1617.8" y="173" font-size="10.2" fill="#fff" stroke="#fff" stroke-width="0.2" textLength="27.8" lengthAdjust="spacingAndGlyphs">82.631</text>
</g>
<polygon points="8,35 15,35 11.5,39" fill="#000"/>
<text x="20.5" y="39.5" font-size="10.2" fill="#000" stroke="#000" stroke-width="0.2" textLength="42.3" lengthAdjust="spacingAndGlyphs">USOil-,H4</text>
<text x="68.9" y="39.5" font-size="10.2" fill="#000" stroke="#000" stroke-width="0.2" textLength="27.8" lengthAdjust="spacingAndGlyphs">83.515</text>
<text x="100.3" y="39.5" font-size="10.2" fill="#000" stroke="#000" stroke-width="0.2" textLength="27.8" lengthAdjust="spacingAndGlyphs">83.640</text>
<text x="131.1" y="39.5" font-size="10.2" fill="#000" stroke="#000" stroke-width="0.2" textLength="27.8" lengthAdjust="spacingAndGlyphs">83.488</text>
<text x="162" y="39.5" font-size="10.2" fill="#000" stroke="#000" stroke-width="0.2" textLength="27.8" lengthAdjust="spacingAndGlyphs">83.558</text>
<g shape-rendering="crispEdges" clip-path="url(#cmacd)">
<rect x="4" y="675" width="3" height="6" fill="#00ff00"/>
<rect x="20" y="677" width="3" height="4" fill="#00ff00"/>
<rect x="36" y="679" width="3" height="2" fill="#00ff00"/>
<rect x="52" y="680" width="3" height="1" fill="#00ff00"/>
<rect x="68" y="681" width="3" height="2" fill="#00ff00"/>
<rect x="84" y="681" width="3" height="3" fill="#00ff00"/>
<rect x="100" y="681" width="3" height="5" fill="#00ff00"/>
<rect x="116" y="681" width="3" height="9" fill="#00ff00"/>
<rect x="132" y="681" width="3" height="16" fill="#00ff00"/>
<rect x="148" y="681" width="3" height="20" fill="#00ff00"/>
<rect x="164" y="681" width="3" height="22" fill="#00ff00"/>
<rect x="180" y="681" width="3" height="25" fill="#00ff00"/>
<rect x="196" y="681" width="3" height="27" fill="#00ff00"/>
<rect x="212" y="681" width="3" height="26" fill="#00ff00"/>
<rect x="228" y="681" width="3" height="27" fill="#00ff00"/>
<rect x="244" y="681" width="3" height="34" fill="#00ff00"/>
<rect x="260" y="681" width="3" height="39" fill="#00ff00"/>
<rect x="276" y="681" width="3" height="42" fill="#00ff00"/>
<rect x="292" y="681" width="3" height="41" fill="#00ff00"/>
<rect x="308" y="681" width="3" height="39" fill="#00ff00"/>
<rect x="324" y="681" width="3" height="36" fill="#00ff00"/>
<rect x="340" y="681" width="3" height="34" fill="#00ff00"/>
<rect x="356" y="681" width="3" height="32" fill="#00ff00"/>
<rect x="372" y="681" width="3" height="30" fill="#00ff00"/>
<rect x="388" y="681" width="3" height="27" fill="#00ff00"/>
<rect x="404" y="681" width="3" height="27" fill="#00ff00"/>
<rect x="420" y="681" width="3" height="24" fill="#00ff00"/>
<rect x="436" y="681" width="3" height="19" fill="#00ff00"/>
<rect x="452" y="681" width="3" height="16" fill="#00ff00"/>
<rect x="468" y="681" width="3" height="13" fill="#00ff00"/>
<rect x="484" y="681" width="3" height="9" fill="#00ff00"/>
<rect x="500" y="681" width="3" height="5" fill="#00ff00"/>
<rect x="516" y="681" width="3" height="4" fill="#00ff00"/>
<rect x="532" y="681" width="3" height="7" fill="#00ff00"/>
<rect x="548" y="681" width="3" height="9" fill="#00ff00"/>
<rect x="564" y="681" width="3" height="10" fill="#00ff00"/>
<rect x="580" y="681" width="3" height="14" fill="#00ff00"/>
<rect x="596" y="681" width="3" height="16" fill="#00ff00"/>
<rect x="612" y="681" width="3" height="16" fill="#00ff00"/>
<rect x="628" y="681" width="3" height="17" fill="#00ff00"/>
<rect x="644" y="681" width="3" height="18" fill="#00ff00"/>
<rect x="660" y="681" width="3" height="18" fill="#00ff00"/>
<rect x="676" y="681" width="3" height="20" fill="#00ff00"/>
<rect x="692" y="681" width="3" height="24" fill="#00ff00"/>
<rect x="708" y="681" width="3" height="25" fill="#00ff00"/>
<rect x="724" y="681" width="3" height="27" fill="#00ff00"/>
<rect x="740" y="681" width="3" height="28" fill="#00ff00"/>
<rect x="756" y="681" width="3" height="29" fill="#00ff00"/>
<rect x="772" y="681" width="3" height="30" fill="#00ff00"/>
<rect x="788" y="681" width="3" height="29" fill="#00ff00"/>
<rect x="804" y="681" width="3" height="27" fill="#00ff00"/>
<rect x="820" y="681" width="3" height="25" fill="#00ff00"/>
<rect x="836" y="681" width="3" height="25" fill="#00ff00"/>
<rect x="852" y="681" width="3" height="22" fill="#00ff00"/>
<rect x="868" y="681" width="3" height="17" fill="#00ff00"/>
<rect x="884" y="681" width="3" height="11" fill="#00ff00"/>
<rect x="900" y="681" width="3" height="10" fill="#00ff00"/>
<rect x="916" y="681" width="3" height="7" fill="#00ff00"/>
<rect x="932" y="681" width="3" height="4" fill="#00ff00"/>
<rect x="948" y="681" width="3" height="1" fill="#00ff00"/>
<rect x="964" y="680" width="3" height="1" fill="#00ff00"/>
<rect x="980" y="678" width="3" height="3" fill="#00ff00"/>
<rect x="996" y="677" width="3" height="4" fill="#00ff00"/>
<rect x="1012" y="676" width="3" height="5" fill="#00ff00"/>
<rect x="1028" y="675" width="3" height="6" fill="#00ff00"/>
<rect x="1044" y="675" width="3" height="6" fill="#00ff00"/>
<rect x="1060" y="675" width="3" height="6" fill="#00ff00"/>
<rect x="1076" y="674" width="3" height="7" fill="#00ff00"/>
<rect x="1092" y="672" width="3" height="9" fill="#00ff00"/>
<rect x="1108" y="671" width="3" height="10" fill="#00ff00"/>
<rect x="1124" y="667" width="3" height="14" fill="#00ff00"/>
<rect x="1140" y="664" width="3" height="17" fill="#00ff00"/>
<rect x="1156" y="661" width="3" height="20" fill="#00ff00"/>
<rect x="1172" y="659" width="3" height="22" fill="#00ff00"/>
<rect x="1188" y="657" width="3" height="24" fill="#00ff00"/>
<rect x="1204" y="657" width="3" height="24" fill="#00ff00"/>
<rect x="1220" y="656" width="3" height="25" fill="#00ff00"/>
<rect x="1236" y="656" width="3" height="25" fill="#00ff00"/>
<rect x="1252" y="656" width="3" height="25" fill="#00ff00"/>
<rect x="1268" y="655" width="3" height="26" fill="#00ff00"/>
<rect x="1284" y="653" width="3" height="28" fill="#00ff00"/>
<rect x="1300" y="652" width="3" height="29" fill="#00ff00"/>
<rect x="1316" y="646" width="3" height="35" fill="#00ff00"/>
<rect x="1332" y="642" width="3" height="39" fill="#00ff00"/>
</g>
<g clip-path="url(#cmacd)"><polyline points="4,669 21,669.8 37,671.5 53,673.6 69,675.3 85,677.1 101,679.1 117,681.2 133,683 149,685.5 165,688 181,690.6 197,693.1 213,696.4 229,699.5 245,702.5 261,705.8 277,709.1 293,711.6 309,713.4 325,714.7 341,715.4 357,716 373,716 389,715.4 405,714.2 435,710.4 461,707 486,702.5 511.5,697 537,693.9 552,691.8 567,690.6 588,690 613,690 628,690.8 646,691.8 664,694.4 689,697 715,699.5 740,701.5 765,703.8 791,705 803,706.6 830,707 869.5,707 896,703.3 921.5,699 947,695.6 972,690.6 997.7,685.5 1023,681.7 1048.4,679.1 1073.8,677.9 1099,676.1 1124.6,674 1150,671.5 1175,669 1200.7,666.5 1226,663.4 1245,660.1 1255,658.8 1280.8,657 1306,655.5 1319,653.8 1333.6,653.8" fill="none" stroke="#ff0000" stroke-width="2" stroke-linejoin="miter" shape-rendering="crispEdges"/></g>
<text x="9.2" y="650" font-size="10.2" fill="#000" stroke="#000" stroke-width="0.2" textLength="127.6" lengthAdjust="spacingAndGlyphs">MACD(12,26,9) 0.7735 0.5667</text>
<g shape-rendering="crispEdges">
<rect x="1613" y="639" width="2" height="1" fill="#000"/>
<rect x="1613" y="681" width="2" height="1" fill="#000"/>
<rect x="1613" y="725" width="2" height="1" fill="#000"/>
</g>
<text x="1616.5" y="648.3" font-size="10.2" fill="#000" stroke="#000" stroke-width="0.2" textLength="28" lengthAdjust="spacingAndGlyphs">0.8538</text>
<text x="1616.5" y="685.1" font-size="10.2" fill="#000" stroke="#000" stroke-width="0.2" textLength="17.3" lengthAdjust="spacingAndGlyphs">0.00</text>
<text x="1616" y="723" font-size="10.2" fill="#000" stroke="#000" stroke-width="0.2" textLength="30.5" lengthAdjust="spacingAndGlyphs">-0.9123</text>
<g shape-rendering="crispEdges" clip-path="url(#crsi)">
<line x1="0" y1="746.5" x2="1612" y2="746.5" stroke="#000" stroke-width="1" stroke-dasharray="3,3"/>
<line x1="0" y1="770.5" x2="1612" y2="770.5" stroke="#000" stroke-width="1" stroke-dasharray="3,3"/>
<line x1="0" y1="799.5" x2="1612" y2="799.5" stroke="#000" stroke-width="1" stroke-dasharray="3,3"/>
</g>
<g clip-path="url(#crsi)"><polyline points="4,772 21,772 28,773.8 37,773.8 53,774.6 69,774.6 77,773.8 85,773.8 101,777.1 117,780.4 133,788 149,783 165,781.4 181,782.4 197,782.4 213,777.9 229,780.4 245,788.5 261,788.5 277,787.3 293,780.9 309,779.6 325,775.3 341,777.9 357,777.9 373,774.6 389,774.6 405,778.9 422.7,772 438,768.7 453,771.4 471,768.1 486,767.6 501,766.4 516.6,771.2 532,775.3 547,775.8 562,775.8 575,777.5 613,777.5 620.7,776.5 631,777.5 653.6,777.5 663.8,776.5 676.5,779 691.7,784.6 707,780.8 719.6,781.3 755,781.9 770.4,783.9 785.6,777.8 803.4,777.8 816,777.5 835,776.5 853,773.2 870.8,768.7 883.5,765.6 901,770 919,766.1 952,765.6 964.7,768.9 980,765.6 997.7,768.9 1013,766.9 1028,766.9 1035.7,767.6 1068.7,767.6 1076,766.4 1091.6,763.1 1099,763.1 1109,764.8 1127,758.8 1139.8,758.8 1145,757.5 1157.6,757.2 1175,756.2 1190.6,756.2 1203,760.5 1213.4,759.3 1221,758.5 1255.7,758.4 1263.4,757.1 1276,755.3 1286.5,753.2 1303,752.7 1309.6,750.7 1318.6,746.8 1334,746.8" fill="none" stroke="#1e90ff" stroke-width="2" stroke-linejoin="round" shape-rendering="crispEdges"/></g>
<text x="9" y="741.3" font-size="10.2" fill="#000" stroke="#000" stroke-width="0.2" textLength="67.5" lengthAdjust="spacingAndGlyphs">RSI(14) 79.2922</text>
<g shape-rendering="crispEdges">
<rect x="1613" y="730" width="2" height="1" fill="#000"/>
<rect x="1613" y="811" width="2" height="1" fill="#000"/>
</g>
<text x="1616.4" y="739.1" font-size="10.2" fill="#000" stroke="#000" stroke-width="0.2" textLength="14.3" lengthAdjust="spacingAndGlyphs">100</text>
<text x="1615.6" y="750.3" font-size="10.2" fill="#000" stroke="#000" stroke-width="0.2" textLength="9.5" lengthAdjust="spacingAndGlyphs">80</text>
<text x="1615.6" y="774.2" font-size="10.2" fill="#000" stroke="#000" stroke-width="0.2" textLength="9.5" lengthAdjust="spacingAndGlyphs">50</text>
<text x="1615.6" y="802.9" font-size="10.2" fill="#000" stroke="#000" stroke-width="0.2" textLength="9.5" lengthAdjust="spacingAndGlyphs">15</text>
<text x="1615.6" y="809.2" font-size="10.2" fill="#000" stroke="#000" stroke-width="0.2" textLength="5.2" lengthAdjust="spacingAndGlyphs">0</text>
<g shape-rendering="crispEdges">
<rect x="5" y="813" width="1" height="3" fill="#000"/>
<rect x="69" y="813" width="1" height="3" fill="#000"/>
<rect x="133" y="813" width="1" height="3" fill="#000"/>
<rect x="197" y="813" width="1" height="3" fill="#000"/>
<rect x="261" y="813" width="1" height="3" fill="#000"/>
<rect x="325" y="813" width="1" height="3" fill="#000"/>
<rect x="389" y="813" width="1" height="3" fill="#000"/>
<rect x="453" y="813" width="1" height="3" fill="#000"/>
<rect x="517" y="813" width="1" height="3" fill="#000"/>
<rect x="581" y="813" width="1" height="3" fill="#000"/>
<rect x="645" y="813" width="1" height="3" fill="#000"/>
<rect x="709" y="813" width="1" height="3" fill="#000"/>
<rect x="773" y="813" width="1" height="3" fill="#000"/>
<rect x="837" y="813" width="1" height="3" fill="#000"/>
<rect x="901" y="813" width="1" height="3" fill="#000"/>
<rect x="965" y="813" width="1" height="3" fill="#000"/>
<rect x="1029" y="813" width="1" height="3" fill="#000"/>
<rect x="1093" y="813" width="1" height="3" fill="#000"/>
<rect x="1157" y="813" width="1" height="3" fill="#000"/>
<rect x="1221" y="813" width="1" height="3" fill="#000"/>
<rect x="1285" y="813" width="1" height="3" fill="#000"/>
</g>
<text x="4.4" y="825" font-size="10.2" fill="#000" stroke="#000" stroke-width="0.2" textLength="52.8" lengthAdjust="spacingAndGlyphs">14 Aug 2023</text>
<text x="68.4" y="825" font-size="10.2" fill="#000" stroke="#000" stroke-width="0.2" textLength="55.1" lengthAdjust="spacingAndGlyphs">14 Aug 20:00</text>
<text x="132.4" y="825" font-size="10.2" fill="#000" stroke="#000" stroke-width="0.2" textLength="55.1" lengthAdjust="spacingAndGlyphs">15 Aug 12:00</text>
<text x="196.4" y="825" font-size="10.2" fill="#000" stroke="#000" stroke-width="0.2" textLength="55.1" lengthAdjust="spacingAndGlyphs">16 Aug 04:00</text>
<text x="260.4" y="825" font-size="10.2" fill="#000" stroke="#000" stroke-width="0.2" textLength="55.1" lengthAdjust="spacingAndGlyphs">16 Aug 20:00</text>
<text x="324.4" y="825" font-size="10.2" fill="#000" stroke="#000" stroke-width="0.2" textLength="55.1" lengthAdjust="spacingAndGlyphs">17 Aug 12:00</text>
<text x="388.4" y="825" font-size="10.2" fill="#000" stroke="#000" stroke-width="0.2" textLength="55.1" lengthAdjust="spacingAndGlyphs">18 Aug 04:00</text>
<text x="452.4" y="825" font-size="10.2" fill="#000" stroke="#000" stroke-width="0.2" textLength="55.1" lengthAdjust="spacingAndGlyphs">20 Aug 23:00</text>
<text x="516.4" y="825" font-size="10.2" fill="#000" stroke="#000" stroke-width="0.2" textLength="55.1" lengthAdjust="spacingAndGlyphs">21 Aug 12:00</text>
<text x="580.4" y="825" font-size="10.2" fill="#000" stroke="#000" stroke-width="0.2" textLength="55.1" lengthAdjust="spacingAndGlyphs">22 Aug 04:00</text>
<text x="644.4" y="825" font-size="10.2" fill="#000" stroke="#000" stroke-width="0.2" textLength="55.1" lengthAdjust="spacingAndGlyphs">22 Aug 20:00</text>
<text x="708.4" y="825" font-size="10.2" fill="#000" stroke="#000" stroke-width="0.2" textLength="55.1" lengthAdjust="spacingAndGlyphs">23 Aug 12:00</text>
<text x="772.4" y="825" font-size="10.2" fill="#000" stroke="#000" stroke-width="0.2" textLength="55.1" lengthAdjust="spacingAndGlyphs">24 Aug 04:00</text>
<text x="836.4" y="825" font-size="10.2" fill="#000" stroke="#000" stroke-width="0.2" textLength="55.1" lengthAdjust="spacingAndGlyphs">24 Aug 20:00</text>
<text x="900.4" y="825" font-size="10.2" fill="#000" stroke="#000" stroke-width="0.2" textLength="55.1" lengthAdjust="spacingAndGlyphs">25 Aug 12:00</text>
<text x="964.4" y="825" font-size="10.2" fill="#000" stroke="#000" stroke-width="0.2" textLength="55.1" lengthAdjust="spacingAndGlyphs">28 Aug 00:00</text>
<text x="1028.4" y="825" font-size="10.2" fill="#000" stroke="#000" stroke-width="0.2" textLength="55.1" lengthAdjust="spacingAndGlyphs">28 Aug 16:00</text>
<text x="1092.4" y="825" font-size="10.2" fill="#000" stroke="#000" stroke-width="0.2" textLength="55.1" lengthAdjust="spacingAndGlyphs">29 Aug 08:00</text>
<text x="1156.4" y="825" font-size="10.2" fill="#000" stroke="#000" stroke-width="0.2" textLength="55.1" lengthAdjust="spacingAndGlyphs">30 Aug 00:00</text>
<text x="1220.4" y="825" font-size="10.2" fill="#000" stroke="#000" stroke-width="0.2" textLength="55.1" lengthAdjust="spacingAndGlyphs">30 Aug 16:00</text>
<text x="1284.4" y="825" font-size="10.2" fill="#000" stroke="#000" stroke-width="0.2" textLength="55.1" lengthAdjust="spacingAndGlyphs">31 Aug 08:00</text>
</svg>
<svg width="1655" height="24" viewBox="0 0 1655 24" style="position:absolute;left:0;top:0">
<defs>
<linearGradient id="gold" x1="0" y1="0" x2="0" y2="1"><stop offset="0" stop-color="#ffe14a"/><stop offset="1" stop-color="#d99a10"/></linearGradient><linearGradient id="gold2" x1="1" y1="0" x2="0" y2="1"><stop offset="0" stop-color="#fff6a0"/><stop offset="0.45" stop-color="#f2c824"/><stop offset="1" stop-color="#d89a12"/></linearGradient>
<linearGradient id="cloud" x1="0" y1="0" x2="0" y2="1"><stop offset="0" stop-color="#ffffff"/><stop offset="1" stop-color="#b8c6dc"/></linearGradient>
<linearGradient id="hat" x1="0" y1="0" x2="0" y2="1"><stop offset="0" stop-color="#9ad4f4"/><stop offset="1" stop-color="#3a9ad2"/></linearGradient>
<radialGradient id="clk2" cx="0.4" cy="0.35" r="0.7"><stop offset="0" stop-color="#5ab8ff"/><stop offset="0.6" stop-color="#1a78e0"/><stop offset="1" stop-color="#0a3a9a"/></radialGradient>
<radialGradient id="badge" cx="0.45" cy="0.35" r="0.6"><stop offset="0" stop-color="#f0603a"/><stop offset="1" stop-color="#d41e08"/></radialGradient>
<pattern id="chk2" width="2" height="2" patternUnits="userSpaceOnUse"><rect width="2" height="2" fill="#f6f6f6"/><rect width="1" height="1" fill="#e9e9e9"/><rect x="1" y="1" width="1" height="1" fill="#e9e9e9"/></pattern>
</defs>
<g shape-rendering="crispEdges">
<!-- separators -->
<rect x="204" y="0" width="1" height="24" fill="#a0a0a0"/><rect x="205" y="0" width="1" height="24" fill="#ffffff"/>
<rect x="299" y="1" width="1" height="21" fill="#a0a0a0"/>
<rect x="389" y="1" width="1" height="21" fill="#a0a0a0"/>
<rect x="451" y="1" width="1" height="21" fill="#a0a0a0"/>
<rect x="572" y="0" width="1" height="24" fill="#a0a0a0"/><rect x="573" y="0" width="1" height="24" fill="#ffffff"/>
<rect x="639" y="1" width="1" height="21" fill="#a0a0a0"/>
<rect x="878" y="0" width="1" height="24" fill="#a0a0a0"/><rect x="879" y="0" width="1" height="24" fill="#ffffff"/>
<rect x="1139" y="0" width="1" height="24" fill="#a0a0a0"/><rect x="1140" y="0" width="1" height="24" fill="#ffffff"/>
<!-- grips -->
<g fill="#a8a8a8">
<rect x="208" y="2" width="3" height="1"/><rect x="208" y="4" width="3" height="1"/><rect x="208" y="6" width="3" height="1"/><rect x="208" y="8" width="3" height="1"/><rect x="208" y="10" width="3" height="1"/><rect x="208" y="12" width="3" height="1"/><rect x="208" y="14" width="3" height="1"/><rect x="208" y="16" width="3" height="1"/><rect x="208" y="18" width="3" height="1"/><rect x="208" y="20" width="3" height="1"/>
<rect x="576" y="2" width="3" height="1"/><rect x="576" y="4" width="3" height="1"/><rect x="576" y="6" width="3" height="1"/><rect x="576" y="8" width="3" height="1"/><rect x="576" y="10" width="3" height="1"/><rect x="576" y="12" width="3" height="1"/><rect x="576" y="14" width="3" height="1"/><rect x="576" y="16" width="3" height="1"/><rect x="576" y="18" width="3" height="1"/><rect x="576" y="20" width="3" height="1"/>
<rect x="882" y="2" width="3" height="1"/><rect x="882" y="4" width="3" height="1"/><rect x="882" y="6" width="3" height="1"/><rect x="882" y="8" width="3" height="1"/><rect x="882" y="10" width="3" height="1"/><rect x="882" y="12" width="3" height="1"/><rect x="882" y="14" width="3" height="1"/><rect x="882" y="16" width="3" height="1"/><rect x="882" y="18" width="3" height="1"/><rect x="882" y="20" width="3" height="1"/>
</g>
<!-- pressed buttons -->
<g>
<rect x="242" y="0" width="25" height="22" fill="url(#chk2)"/><rect x="242" y="0" width="25" height="1" fill="#a0a0a0"/><rect x="242" y="0" width="1" height="22" fill="#a0a0a0"/><rect x="267" y="0" width="1" height="22" fill="#fff"/><rect x="242" y="22" width="26" height="1" fill="#fff"/>
<rect x="394" y="0" width="25" height="22" fill="url(#chk2)"/><rect x="394" y="0" width="25" height="1" fill="#a0a0a0"/><rect x="394" y="0" width="1" height="22" fill="#a0a0a0"/><rect x="419" y="0" width="1" height="22" fill="#fff"/><rect x="394" y="22" width="26" height="1" fill="#fff"/>
<rect x="422" y="0" width="25" height="22" fill="url(#chk2)"/><rect x="422" y="0" width="25" height="1" fill="#a0a0a0"/><rect x="422" y="0" width="1" height="22" fill="#a0a0a0"/><rect x="447" y="0" width="1" height="22" fill="#fff"/><rect x="422" y="22" width="26" height="1" fill="#fff"/>
<rect x="582" y="0" width="25" height="22" fill="url(#chk2)"/><rect x="582" y="0" width="25" height="1" fill="#a0a0a0"/><rect x="582" y="0" width="1" height="22" fill="#a0a0a0"/><rect x="607" y="0" width="1" height="22" fill="#fff"/><rect x="582" y="22" width="26" height="1" fill="#fff"/>
<rect x="1028" y="0" width="25" height="22" fill="url(#chk2)"/><rect x="1028" y="0" width="25" height="1" fill="#a0a0a0"/><rect x="1028" y="0" width="1" height="22" fill="#a0a0a0"/><rect x="1053" y="0" width="1" height="22" fill="#fff"/><rect x="1028" y="22" width="26" height="1" fill="#fff"/>
</g>
</g>

<!-- text -->
<text x="-2.5" y="15.2" font-size="11.6" fill="#000" font-family="'Noto Sans CJK SC','WenQuanYi Zen Hei',sans-serif">新订单</text>
<text x="149.5" y="15" font-size="11.6" fill="#000" font-family="'Noto Sans CJK SC','WenQuanYi Zen Hei',sans-serif">自动交易</text>

<!-- yellow eraser/book -->
<polygon points="50.4,5 59.9,11.5 60.9,13.9 52.8,19.8 45,13.9 48,10.4 49.6,6.9" fill="#a6680e"/>
<polygon points="51,6.3 59,11.8 53.6,16.9 46.6,12.4 48.8,10 50.2,7.4" fill="url(#gold2)"/>
<polygon points="46.3,13.3 53.3,17.9 52.8,18.9 45.9,14.3" fill="#f6dc98"/>
<polygon points="54.2,17.3 59.7,12.6 60.1,13.9 54.2,18.6" fill="#e4d6a8"/>
<!-- blue box + cloud -->
<polygon points="75,5.2 77,3.9 86,3.9 86.2,12.6 75,12.6" fill="#12a0f4"/>
<polygon points="75,5.2 78.5,7.4 78.5,12.6 75,12.6" fill="#0a86e0"/>
<path d="M75.4,4.9 L78.6,7.2 L78.6,12.4 M78.6,7.2 L86,7.2" stroke="#e6f6ff" stroke-width="0.8" fill="none"/>
<path d="M80.3,9.6 L85,9.2" stroke="#ffffff" stroke-width="1.1"/>
<path d="M74.3,19.8 A2.4,2.4 0 0 1 74.8,15.3 A3.3,3.3 0 0 1 81,13 A3,3 0 0 1 86.5,14.6 A2.7,2.7 0 0 1 87.6,19.8 Z" fill="url(#cloud)" stroke="#3c5ca6" stroke-width="0.9"/>
<!-- radar -->
<g fill="none" stroke-width="0.9">
<circle cx="109" cy="11.6" r="7.5" stroke="#7aa4e0" opacity="0.8"/>
<circle cx="109" cy="11.6" r="5.2" stroke="#6a96dc" opacity="0.8"/>
<path d="M109,4.1 A7.5,7.5 0 0 1 109,19.1" stroke="#5cae5c"/>
<path d="M109,6.4 A5.2,5.2 0 0 1 109,16.8" stroke="#79bd79"/>
</g>
<circle cx="109" cy="11.6" r="1.8" fill="#2a5bd0"/>
<rect x="109" y="11.6" width="1" height="8" fill="#22a022"/>
<!-- hat with stop -->
<path d="M129,11.5 L143.5,11 L136,19.8 Z" fill="#f6dc50" stroke="#c89a18" stroke-width="0.7"/>
<ellipse cx="136" cy="8.5" rx="7.8" ry="2.7" fill="url(#hat)" stroke="#2a7eb0" stroke-width="0.8"/>
<ellipse cx="135.8" cy="6.3" rx="4" ry="2.6" fill="#8fcdf0" stroke="#2a7eb0" stroke-width="0.7"/>
<circle cx="140.5" cy="15.6" r="4.1" fill="#e02a10" stroke="#b01808" stroke-width="0.6"/>
<rect x="139.2" y="14.3" width="2.6" height="2.6" fill="#fff"/>

<!-- chart type icons -->
<g stroke="#505050" stroke-width="1" fill="none" shape-rendering="crispEdges">
<path d="M222.5,6.5 V19.5 M220,17.5 H233"/>
<path d="M250.5,6.5 V19.5 M248,17.5 H261"/>
<path d="M278.5,6.5 V19.5 M276,17.5 H289"/>
</g>
<g fill="#505050">
<path d="M220.5,8.5 L222.5,6 L224.5,8.5 Z"/><path d="M232,15.5 L234.5,17.5 L232,19.5 Z"/>
<path d="M248.5,8.5 L250.5,6 L252.5,8.5 Z"/><path d="M260,15.5 L262.5,17.5 L260,19.5 Z"/>
<path d="M276.5,8.5 L278.5,6 L280.5,8.5 Z"/><path d="M288,15.5 L290.5,17.5 L288,19.5 Z"/>
</g>
<path d="M228.5,7 V15.7 M228.5,8.5 H231 M226,14.5 H228.5" stroke="#109010" stroke-width="1.1" fill="none"/>
<rect x="254.5" y="6.3" width="4.4" height="7.7" fill="#3ee03e" stroke="#108a10" stroke-width="0.9"/>
<path d="M256.7,4 V6.3 M256.7,14 V15.8" stroke="#108a10" stroke-width="1"/>
<path d="M277,14.5 C279,12 281.5,8 283.5,9.3 C285.5,10.5 287,12.5 289.5,13" stroke="#2a9a2a" stroke-width="0.9" fill="none"/>

<!-- zoom in/out -->
<g>
<path d="M317.5,14 L322.5,19" stroke="#b08a10" stroke-width="2.6"/>
<path d="M317.5,14 L322.5,19" stroke="#f0d060" stroke-width="1.2"/>
<circle cx="313.8" cy="10.2" r="5.2" fill="#dcecfa" stroke="#3a7ad0" stroke-width="1.1"/>
<path d="M311,10.2 H316.6 M313.8,7.4 V13" stroke="#3a7aba" stroke-width="1.5"/>
<path d="M345.7,14 L350.7,19" stroke="#b08a10" stroke-width="2.6"/>
<path d="M345.7,14 L350.7,19" stroke="#f0d060" stroke-width="1.2"/>
<circle cx="342" cy="10.2" r="5.2" fill="#dcecfa" stroke="#3a7ad0" stroke-width="1.1"/>
<path d="M339.2,10.2 H344.8" stroke="#3a7aba" stroke-width="1.5"/>
</g>
<!-- tile windows -->
<g shape-rendering="crispEdges">
<rect x="364" y="4" width="8" height="8" fill="#3a9a1a"/><rect x="372" y="4" width="8" height="8" fill="#1a4ed0"/>
<rect x="364" y="12" width="8" height="8" fill="#1a4ed0"/><rect x="372" y="12" width="8" height="8" fill="#3a9a1a"/>
<rect x="365" y="6" width="6" height="5" fill="#f4fbf0"/><rect x="373" y="6" width="6" height="5" fill="#f0f4ff"/>
<rect x="365" y="14" width="6" height="5" fill="#f0f4ff"/><rect x="373" y="14" width="6" height="5" fill="#f4fbf0"/>
<rect x="366" y="8" width="4" height="1" fill="#9ccf8c"/><rect x="374" y="8" width="4" height="1" fill="#8aa8e8"/>
<rect x="366" y="16" width="4" height="1" fill="#8aa8e8"/><rect x="374" y="16" width="4" height="1" fill="#9ccf8c"/>
</g>
<!-- autoscroll / shift -->
<g stroke="#505050" stroke-width="1" fill="none" shape-rendering="crispEdges">
<path d="M402.5,6.5 V19.5 M400,17.5 H413"/>
<path d="M430.5,6.5 V19.5 M428,17.5 H441"/>
</g>
<g fill="#505050">
<path d="M400.5,8.5 L402.5,6 L404.5,8.5 Z"/><path d="M412,15.5 L414.5,17.5 L412,19.5 Z"/>
<path d="M428.5,8.5 L430.5,6 L432.5,8.5 Z"/><path d="M440,15.5 L442.5,17.5 L440,19.5 Z"/>
</g>
<path d="M407.3,8.3 L411,11.5 L407.3,14.6 Z" fill="#2ad02a" stroke="#109010" stroke-width="0.8"/>
<rect x="436" y="6" width="1" height="9.5" fill="#1a6ab0"/>
<path d="M437.5,11.3 L441,9.2 L440,11.3 H442 V11.8 H440 L441,13.6 Z" fill="#d84010"/>
<!-- new chart -->
<path d="M461.5,4.5 H470 L472.5,7 V17.5 H461.5 Z" fill="#f8f8f8" stroke="#888" stroke-width="0.9"/>
<path d="M463.5,8 Q462.5,12 463.5,15" stroke="#6a5a30" stroke-width="0.8" fill="none"/>
<path d="M468.3,10 H472.3 V13.6 H476 V17.6 H472.3 V21.5 H468.3 V17.6 H464.6 V13.6 H468.3 Z" fill="#2ed82e" stroke="#129012" stroke-width="0.8"/>
<!-- dropdown arrows -->
<g fill="#000">
<path d="M483,11 H488.5 L485.75,14 Z"/>
<path d="M522,11 H527.5 L524.75,14 Z"/>
<path d="M561,11 H566.5 L563.75,14 Z"/>
<path d="M867,11 H872.5 L869.75,14 Z"/>
</g>
<!-- clock -->
<circle cx="507" cy="12" r="8" fill="url(#clk2)"/>
<circle cx="507" cy="12" r="5.4" fill="#fdfdfd" stroke="#8ab8e8" stroke-width="0.5"/>
<g fill="#9a9a9a"><rect x="506.6" y="7.2" width="0.8" height="0.8"/><rect x="506.6" y="16" width="0.8" height="0.8"/><rect x="502.2" y="11.6" width="0.8" height="0.8"/><rect x="511" y="11.6" width="0.8" height="0.8"/></g>
<path d="M506.5,7.8 V12.3 H510.2" stroke="#1a1a1a" stroke-width="1.1" fill="none"/>
<path d="M505.5,15.5 L508.5,15.5" stroke="#8ac0f0" stroke-width="0.8"/>
<!-- template -->
<rect x="538.5" y="5.5" width="15" height="13" fill="#fff" stroke="#3a72c0" stroke-width="1"/>
<rect x="539" y="6" width="14" height="2" fill="#8ab4e8"/>
<rect x="539" y="12" width="14" height="1" fill="#3a72c0"/>
<path d="M540,11 L542,10.5 L544,9.5 L546,10.5 L548,9.5 L550,10 L552,9.2" stroke="#a02010" stroke-width="0.9" fill="none"/>
<path d="M540,16.5 L542,16 L544,15.5 L546,16 L548,14.5 L550,15.5 L552,16.5" stroke="#18a018" stroke-width="0.9" fill="none"/>
<!-- cursor arrow -->
<path d="M590.5,5 L590.5,16.5 L593.2,13.8 L595.5,19 L597.2,18.2 L595,13.3 L598.5,13.3 Z" fill="#505050"/>
<!-- crosshair -->
<g fill="#505050" shape-rendering="crispEdges">
<rect x="622" y="5" width="1" height="6"/><rect x="622" y="14" width="1" height="6"/>
<rect x="615" y="12" width="6" height="1"/><rect x="624" y="12" width="6" height="1"/>
<rect x="656" y="6" width="1" height="13"/>
<rect x="679" y="12" width="12" height="1"/>
</g>
<path d="M707,18.8 L719,6.9" stroke="#505050" stroke-width="0.9"/>
<!-- equidistant channel E -->
<g stroke="#505050" fill="none">
<path d="M732.4,13.6 L740.8,5.8 M738,18.8 L747.2,10.2" stroke-width="0.9"/>
<path d="M736,10.8 C735,13 736.4,15.5 735.3,18.6 M739.6,8.6 C738.6,11 739.8,13.2 738.6,15.6 M744.6,4 C744.2,6.5 745.8,8.6 745.1,11.3" stroke-width="1.4" stroke="#404040"/>
<path d="M734.8,13.2 L737,12.4 M737.8,11.8 L740.6,10.8 M742.6,8.2 L746,7.2" stroke-width="1" stroke="#404040"/>
</g>
<text x="743.5" y="21" font-size="7" font-weight="bold" fill="#505050" font-family="'Liberation Sans',sans-serif">E</text>
<!-- fibo F -->
<g stroke="#505050" stroke-width="1" stroke-dasharray="1,1" shape-rendering="crispEdges">
<path d="M762,5.5 H775 M762,8.5 H775 M762,12.5 H775 M762,16.5 H771"/>
</g>
<text x="771.5" y="21" font-size="7" font-weight="bold" fill="#505050" font-family="'Liberation Sans',sans-serif">F</text>
<!-- A -->
<path d="M793.3,16.9 L796.6,8.3 L799.9,16.9 M794.7,13.5 H798.5" stroke="#505050" stroke-width="1.3" fill="none"/>
<!-- text box -->
<g fill="#505050" shape-rendering="crispEdges">
<rect x="818" y="5" width="2" height="1.5"/>
<rect x="821" y="6" width="1" height="1"/><rect x="823" y="6" width="1" height="1"/><rect x="825" y="6" width="1" height="1"/><rect x="827" y="6" width="1" height="1"/><rect x="829" y="6" width="1" height="1"/>
<rect x="819" y="18" width="1" height="1"/><rect x="821" y="18" width="1" height="1"/><rect x="823" y="18" width="1" height="1"/><rect x="825" y="18" width="1" height="1"/><rect x="827" y="18" width="1" height="1"/><rect x="829" y="18" width="1" height="1"/>
<rect x="819" y="8" width="1" height="1"/><rect x="819" y="10" width="1" height="1"/><rect x="819" y="12" width="1" height="1"/><rect x="819" y="14" width="1" height="1"/><rect x="819" y="16" width="1" height="1"/>
<rect x="830" y="8" width="1" height="1"/><rect x="830" y="10" width="1" height="1"/><rect x="830" y="12" width="1" height="1"/><rect x="830" y="14" width="1" height="1"/><rect x="830" y="16" width="1" height="1"/>
</g>
<path d="M821.2,9.5 H828.9 M825,9.5 V17" stroke="#505050" stroke-width="1.5" fill="none"/>
<!-- arrows icon -->
<path d="M846,10.2 L849.5,6 L853,10.2 Z" fill="#505050"/>
<path d="M848.3,13.3 L850.5,15.8 L854.8,10.3" stroke="#505050" stroke-width="1.3" fill="none"/>
<path d="M853.3,15 L860.2,15 L856.8,19 Z" fill="#505050"/>

<!-- timeframes -->
<g font-family="'Liberation Sans',sans-serif" font-size="9.3" fill="#333333">
<text x="893.6" y="15.8" textLength="12.4" lengthAdjust="spacingAndGlyphs">M1</text>
<text x="921.5" y="15.8" textLength="12.4" lengthAdjust="spacingAndGlyphs">M5</text>
<text x="947.6" y="15.8" textLength="17.4" lengthAdjust="spacingAndGlyphs">M15</text>
<text x="975.5" y="15.8" textLength="17.4" lengthAdjust="spacingAndGlyphs">M30</text>
<text x="1006.2" y="15.8" textLength="11.8" lengthAdjust="spacingAndGlyphs">H1</text>
<text x="1033.4" y="15.8" textLength="12.5" lengthAdjust="spacingAndGlyphs">H4</text>
<text x="1062.4" y="15.8" textLength="11.7" lengthAdjust="spacingAndGlyphs">D1</text>
<text x="1089.8" y="15.8" textLength="14.3" lengthAdjust="spacingAndGlyphs">W1</text>
<text x="1116.6" y="15.8" textLength="14.6" lengthAdjust="spacingAndGlyphs">MN</text>
</g>

<!-- search -->
<circle cx="1609.6" cy="9.4" r="3.6" fill="#f4f8ff" stroke="#1a56d0" stroke-width="1.2"/>
<path d="M1607,12 L1602.5,16.5" stroke="#1a4ec0" stroke-width="2" stroke-linecap="round"/>
<!-- chat bubble + badge -->
<ellipse cx="1632" cy="14" rx="5.8" ry="4.2" fill="#dde2ea" stroke="#b0b4bc" stroke-width="0.8"/>
<path d="M1629.5,17.5 L1629,20.2 L1632,17.8 Z" fill="#a8acb4"/>
<circle cx="1640.5" cy="9.4" r="8.1" fill="url(#badge)"/>
<text x="1637.2" y="14" font-size="12" font-weight="bold" fill="#fff" style="font-family:'Liberation Serif',serif">1</text>
</svg>

</body></html>
